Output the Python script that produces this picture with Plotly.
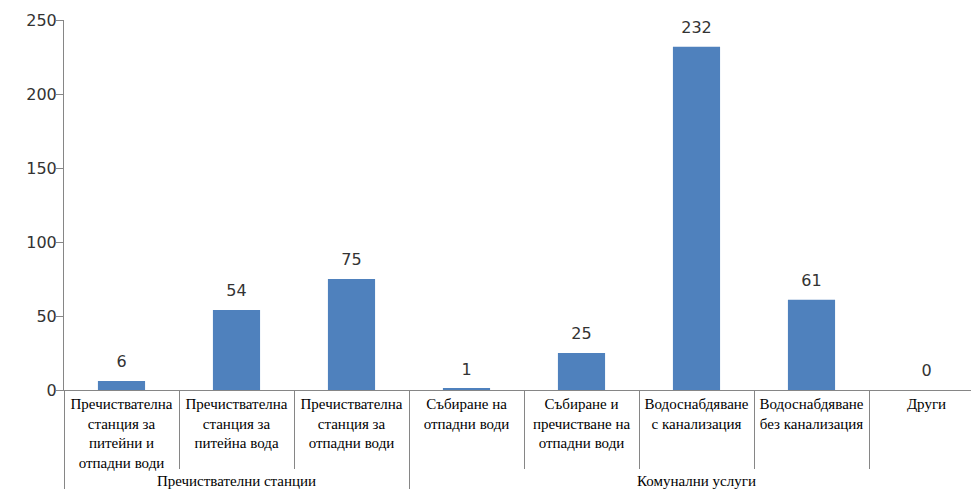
import plotly.graph_objects as go

groups = ["Пречиствателни станции"] * 3 + ["Комунални услуги"] * 5
categories = [
    "Пречиствателна<br>станция за<br>питейни и<br>отпадни води",
    "Пречиствателна<br>станция за<br>питейна вода",
    "Пречиствателна<br>станция за<br>отпадни води",
    "Събиране на<br>отпадни води",
    "Събиране и<br>пречистване на<br>отпадни води",
    "Водоснабдяване<br>с канализация",
    "Водоснабдяване<br>без канализация",
    "Други",
]
values = [6, 54, 75, 1, 25, 232, 61, 0]

BAR = "#4F81BD"
AX = "#868686"
TXT = "#333333"

fig = go.Figure()
fig.add_trace(go.Bar(
    x=[groups, categories], y=values,
    marker=dict(color=BAR, line=dict(width=0)),
    width=0.41, showlegend=False, hoverinfo="skip",
))
fig.add_trace(go.Scatter(
    x=[groups, categories], y=values,
    mode="markers+text", text=[str(v) for v in values],
    textposition="top center",
    textfont=dict(family="DejaVu Sans", size=16, color=TXT),
    marker=dict(size=14, color="rgba(0,0,0,0)"),
    showlegend=False, cliponaxis=False, hoverinfo="skip",
))

fig.update_layout(
    width=971, height=493,
    margin=dict(l=64, r=0, t=20, b=103, autoexpand=False),
    paper_bgcolor="white", plot_bgcolor="white",
    xaxis=dict(
        type="multicategory", automargin=False,
        range=[-0.5, 7.387], tickangle=0,
        showline=True, linecolor=AX, linewidth=1,
        ticks="outside", tickson="boundaries", ticklen=78, tickcolor=AX,
        showdividers=True, dividercolor=AX, dividerwidth=1,
        showgrid=False,
        tickfont=dict(family="Liberation Serif", size=15, color="#000000"),
    ),
    yaxis=dict(
        automargin=False,
        range=[0, 250], tickvals=[0, 50, 100, 150, 200, 250],
        showline=True, linecolor=AX, linewidth=1,
        ticks="outside", ticklen=7, tickcolor=AX,
        ticklabelstandoff=-4,
        showgrid=False, zeroline=False,
        tickfont=dict(family="DejaVu Sans", size=16, color=TXT),
    ),
)

fig.write_html("out.html", config={"displayModeBar": False},
               post_script="document.body.style.margin='0';")
